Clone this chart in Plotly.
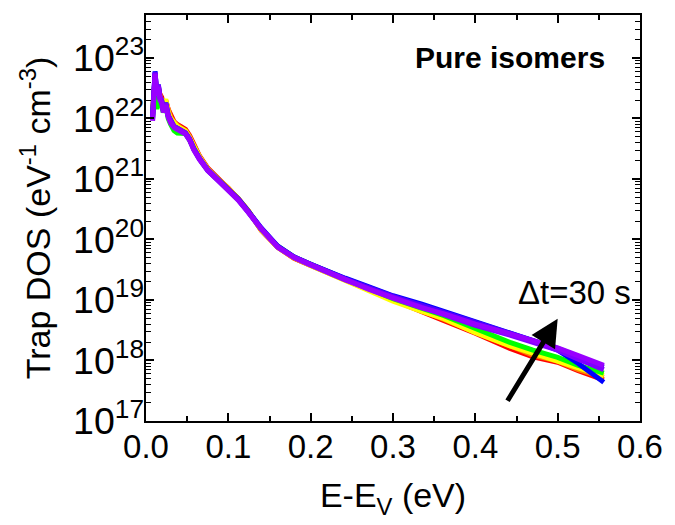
import plotly.graph_objects as go

# Shared energy grid (eV)
energy = [0.008, 0.0095, 0.011, 0.013, 0.015, 0.017, 0.019, 0.021, 0.024, 0.027,
          0.030, 0.034, 0.038, 0.043, 0.048, 0.053, 0.058, 0.065, 0.075, 0.085,
          0.100, 0.112, 0.124, 0.140, 0.160, 0.180, 0.200, 0.220, 0.242, 0.270,
          0.300, 0.335, 0.362, 0.400, 0.442, 0.470, 0.500, 0.525, 0.556]

# log10 of trap DOS (eV^-1 cm^-3), earliest -> latest
dos_red = [22.10, 22.55, 22.62, 22.50, 22.48, 22.40, 22.35, 22.25, 22.30, 22.15,
           22.05, 21.95, 21.90, 21.86, 21.82, 21.72, 21.57, 21.38, 21.18, 21.04,
           20.85, 20.68, 20.48, 20.15, 19.87, 19.69, 19.57, 19.45, 19.32, 19.17,
           19.00, 18.82, 18.66, 18.45, 18.20, 18.06, 17.97, 17.83, 17.68]
dos_orange = [22.15, 22.60, 22.66, 22.45, 22.50, 22.38, 22.32, 22.22, 22.28, 22.12,
              22.02, 21.93, 21.88, 21.84, 21.80, 21.70, 21.55, 21.37, 21.17, 21.03,
              20.85, 20.67, 20.48, 20.16, 19.87, 19.69, 19.57, 19.45, 19.32, 19.17,
              19.01, 18.83, 18.68, 18.47, 18.23, 18.09, 17.99, 17.85, 17.72]
dos_yellow = [22.05, 22.65, 22.70, 22.42, 22.52, 22.36, 22.30, 22.20, 22.32, 22.10,
              22.00, 21.92, 21.87, 21.83, 21.79, 21.68, 21.53, 21.36, 21.16, 21.03,
              20.84, 20.67, 20.47, 20.16, 19.87, 19.70, 19.57, 19.45, 19.31, 19.15,
              18.98, 18.81, 18.69, 18.46, 18.24, 18.12, 18.00, 17.88, 17.75]
dos_green = [22.00, 22.62, 22.68, 22.15, 22.45, 22.30, 22.20, 22.10, 22.22, 22.00,
             21.90, 21.80, 21.76, 21.76, 21.75, 21.64, 21.50, 21.33, 21.15, 21.02,
             20.84, 20.67, 20.47, 20.17, 19.89, 19.71, 19.59, 19.47, 19.34, 19.19,
             19.02, 18.86, 18.74, 18.53, 18.30, 18.17, 18.05, 17.92, 17.79]
dos_blue = [22.05, 22.74, 22.78, 22.40, 22.56, 22.34, 22.30, 22.14, 22.26, 22.05,
            21.95, 21.87, 21.84, 21.80, 21.76, 21.66, 21.50, 21.34, 21.15, 21.02,
            20.84, 20.67, 20.47, 20.19, 19.89, 19.71, 19.59, 19.47, 19.36, 19.22,
            19.07, 18.93, 18.81, 18.63, 18.46, 18.33, 18.17, 17.95, 17.64]
dos_indigo = [21.98, 22.70, 22.75, 22.42, 22.54, 22.33, 22.28, 22.13, 22.24, 22.04,
              21.94, 21.86, 21.83, 21.79, 21.75, 21.65, 21.49, 21.33, 21.14, 21.01,
              20.83, 20.66, 20.46, 20.18, 19.88, 19.71, 19.59, 19.47, 19.35, 19.21,
              19.06, 18.91, 18.79, 18.62, 18.45, 18.33, 18.20, 18.06, 17.89]
dos_violet = [22.02, 22.72, 22.76, 22.45, 22.55, 22.35, 22.30, 22.15, 22.25, 22.05,
              21.95, 21.87, 21.84, 21.80, 21.76, 21.66, 21.50, 21.34, 21.15, 21.02,
              20.83, 20.66, 20.46, 20.18, 19.88, 19.70, 19.58, 19.46, 19.33, 19.19,
              19.04, 18.88, 18.76, 18.58, 18.42, 18.30, 18.17, 18.02, 17.85]
dos_purple = [21.96, 22.68, 22.73, 22.38, 22.52, 22.30, 22.26, 22.10, 22.22, 22.02,
              21.92, 21.85, 21.82, 21.78, 21.74, 21.64, 21.48, 21.32, 21.14, 21.01,
              20.82, 20.65, 20.45, 20.17, 19.87, 19.70, 19.58, 19.46, 19.33, 19.18,
              19.03, 18.87, 18.77, 18.60, 18.44, 18.33, 18.21, 18.08, 17.92]

series = [dos_red, dos_orange, dos_yellow, dos_green, dos_blue, dos_indigo, dos_violet, dos_purple]
colors = ["#FF0000", "#FF8000", "#FFFF00", "#00FF00", "#0000FF", "#5000FF", "#8000FF", "#9900FF"]

FONT = "Liberation Sans, Arial, sans-serif"

fig = go.Figure()
for vals, col in zip(series, colors):
    fig.add_trace(go.Scatter(x=energy, y=[10 ** v for v in vals], mode="lines",
                             line=dict(color=col, width=5), showlegend=False))

axis_common = dict(showline=True, linewidth=2, linecolor="black", mirror="allticks",
                   ticks="inside", ticklen=8, tickwidth=1.5, tickcolor="black",
                   showgrid=False, zeroline=False)

fig.update_xaxes(range=[0, 0.6], dtick=0.1, tick0=0, tickformat=".1f",
                 minor=dict(ticks="inside", ticklen=5, dtick=0.05, tickwidth=1.5,
                            tickcolor="black", showgrid=False),
                 ticklabelstandoff=-5,
                 tickfont=dict(family=FONT, size=33, color="black"),
                 title=dict(text="E-E<sub>V</sub> (eV)", font=dict(family=FONT, size=34, color="black"),
                            standoff=20),
                 **axis_common)
fig.update_yaxes(type="log", range=[17, 23.71], dtick=1, exponentformat="power",
                 minor=dict(ticks="inside", ticklen=5, dtick="D1", tickwidth=1.2,
                            tickcolor="black", showgrid=False),
                 ticklabelstandoff=-6,
                 tickfont=dict(family=FONT, size=30, color="black"),
                 title=dict(text="Trap DOS (eV<sup>-1</sup> cm<sup>-3</sup>)",
                            font=dict(family=FONT, size=34, color="black"), standoff=12),
                 **axis_common)

fig.add_annotation(x=0.442, y=23.01, xref="x", yref="y", text="<b>Pure isomers</b>",
                   showarrow=False, font=dict(family=FONT, size=30, color="black"))
fig.add_annotation(x=0.52, y=19.13, xref="x", yref="y", text="\u0394t=30 s",
                   showarrow=False, font=dict(family=FONT, size=33, color="black"))
fig.add_annotation(x=0.5, y=18.69, ax=0.438, ay=17.31, xref="x", yref="y",
                   axref="x", ayref="y", text="", showarrow=True,
                   arrowhead=2, arrowsize=1.1, arrowwidth=5, arrowcolor="black")

fig.update_layout(width=675, height=525, margin=dict(l=146, r=27, t=15, b=104),
                  plot_bgcolor="white", paper_bgcolor="white",
                  font=dict(family=FONT, color="black"))

fig.write_html("out.html")
